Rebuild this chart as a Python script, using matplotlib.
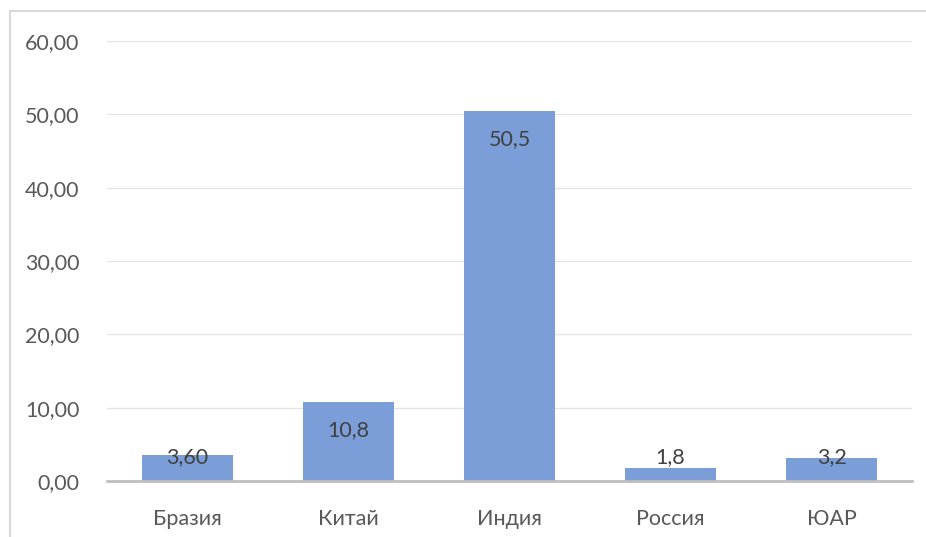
import matplotlib.pyplot as plt
from matplotlib.patches import Rectangle
from matplotlib.ticker import FuncFormatter

# Data
countries = ["Бразия", "Китай", "Индия", "Россия", "ЮАР"]
values = [3.6, 10.8, 50.5, 1.8, 3.2]
value_labels = ["3,60", "10,8", "50,5", "1,8", "3,2"]

plt.rcParams["font.family"] = ["Lato", "DejaVu Sans"]
text_color = "#595959"

fig = plt.figure(figsize=(9.26, 5.37), dpi=100)
ax = fig.add_axes([107 / 926, 1 - 481 / 537, 805 / 926, 440 / 537])

x = range(len(countries))
ax.bar(x, values, width=0.56, color="#7c9ed8", zorder=3)

ax.set_xlim(-0.5, len(countries) - 0.5)
ax.set_ylim(0, 60)
ax.set_yticks(range(0, 61, 10))
ax.yaxis.set_major_formatter(FuncFormatter(lambda v, p: f"{v:.2f}".replace(".", ",")))
ax.set_xticks(list(x))
ax.set_xticklabels(countries)

ax.grid(axis="y", color="#e6e6e6", linewidth=1, zorder=0)
for s in ["top", "right", "left"]:
    ax.spines[s].set_visible(False)
ax.spines["bottom"].set_color("#bfbfbf")
ax.spines["bottom"].set_linewidth(2)
ax.spines["bottom"].set_zorder(4)
ax.tick_params(axis="both", length=0, labelsize=15.5, labelcolor=text_color)
ax.tick_params(axis="y", pad=20)
ax.tick_params(axis="x", pad=20)

# value labels: inside end, but kept near the axis for short bars
for xi, v, lab in zip(x, values, value_labels):
    ax.text(xi, max(v - 3.85, 3.3), lab, ha="center", va="center",
            fontsize=15.5, color="#404040", zorder=5)

# chart frame
fig.patches.append(Rectangle((10 / 926, -0.1), 1.2, 1 - 11 / 537 + 0.1,
                             transform=fig.transFigure, fill=False,
                             edgecolor="#d9d9d9", linewidth=1.5))

fig.savefig("out.png", dpi=100)
